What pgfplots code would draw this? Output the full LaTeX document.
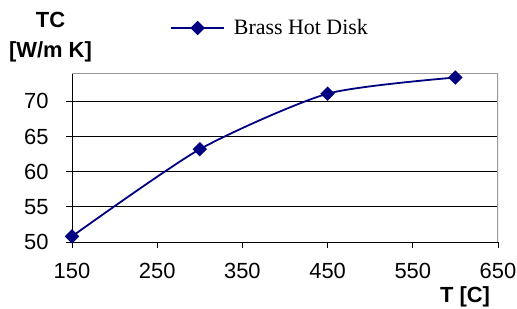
\documentclass[border=0pt]{standalone}
\usepackage{pgfplots}
\pgfplotsset{compat=1.18}
\usepackage{fontspec}
\setmainfont{Liberation Sans}
\newfontfamily\timesf{Liberation Serif}
\definecolor{navy}{RGB}{0,0,128}
\begin{document}
\begin{tikzpicture}
\useasboundingbox (0,0) rectangle (517bp,309bp);
\begin{axis}[
  at={(72bp,67bp)}, anchor=south west,
  scale only axis, width=426bp, height=168.7bp,
  xmin=150, xmax=650, ymin=50, ymax=74,
  xtick={150,250,...,650}, ytick={50,55,...,70},
  axis x line*=bottom, axis y line*=left,
  axis line style={black, line width=0.8bp, -},
  tick align=outside, major tick length=6bp,
  tick style={black, line width=0.8bp},
  ymajorgrids, grid style={black, line width=0.8bp},
  /pgf/number format/assume math mode=true,
  ticklabel style={font=\fontsize{22}{26}\selectfont},
  xticklabel style={yshift=-12bp},
  yticklabel style={xshift=-14bp},
  legend style={at={(0.230,1.2686)}, anchor=west, draw=none, fill=none,
    inner sep=0pt, nodes={inner sep=0pt}, column sep=9bp,
    font=\timesf\fontsize{22}{26}\selectfont},
  legend image code/.code={\draw[mark repeat=2,mark phase=2] plot coordinates {(0bp,0bp) (26.5bp,0bp) (53bp,0bp)};},
]
\draw[gray!80, line width=1.2bp] (rel axis cs:0,1) -- (rel axis cs:1,1) -- (rel axis cs:1,0);
\addplot[navy, line width=1.8bp, smooth, tension=0.4, mark=square*, mark size=4.2bp,
  mark options={rotate=45, solid, fill=navy}]
  coordinates {(150,50.8) (300,63.2) (450,71.1) (600,73.4)};
\addlegendentry{Brass Hot Disk}
\end{axis}
\node[font=\bfseries\fontsize{22}{26}\selectfont] at (50.5bp,289bp) {TC};
\node[font=\bfseries\fontsize{22}{26}\selectfont] at (50.5bp,257.3bp) {[W/m K]};
\node[font=\bfseries\fontsize{22}{26}\selectfont] at (465bp,12.5bp) {T [C]};
\end{tikzpicture}
\end{document}
